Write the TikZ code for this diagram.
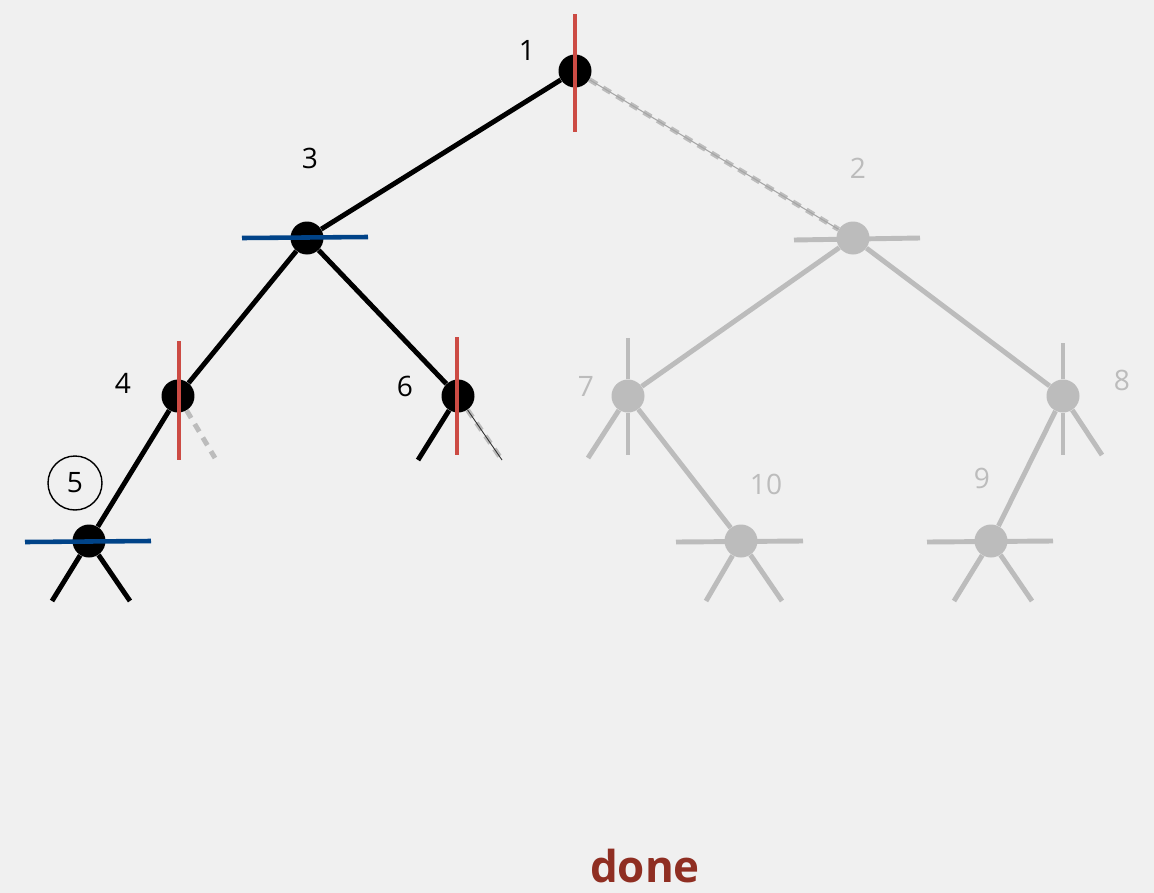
\documentclass[tikz,border=0pt]{standalone}
\usepackage{fontspec}
\setmainfont{Open Sans}
\definecolor{bgcol}{RGB}{240,240,240}
\definecolor{treegray}{RGB}{188,188,188}
\definecolor{cutred}{RGB}{204,75,68}
\definecolor{cutblue}{RGB}{0,67,136}
\definecolor{donered}{RGB}{143,46,34}

\begin{document}
\begin{tikzpicture}[x=0.02cm, y=-0.02cm, font=\fontsize{16}{19}\selectfont,
  dot/.style={circle, fill=black, inner sep=0pt, minimum size=0.66cm},
  gdot/.style={dot, fill=treegray},
  edge/.style={line width=2.8pt},
  gedge/.style={edge, draw=treegray},
  ghost/.style={draw=treegray, line width=2.8pt, dash pattern=on 5pt off 4pt},
  redcut/.style={draw=cutred, line width=2.6pt},
  bluecut/.style={draw=cutblue, line width=2.6pt},
  lbl/.style={inner sep=1pt},
  glbl/.style={lbl, text=treegray}]
  \fill[bgcol] (0,0) rectangle (1154,893);
  % explored part
  \node[dot] (n1) at (575,71) {};
  \node[dot] (n3) at (307,238) {};
  \node[dot] (n4) at (178,396) {};
  \node[dot] (n6) at (458,396) {};
  \node[dot] (n5) at (89,541) {};
  % pruned part
  \node[gdot] (n2) at (853,238) {};
  \node[gdot] (n7) at (628,396) {};
  \node[gdot] (n8) at (1063,396) {};
  \node[gdot] (n10) at (741,541) {};
  \node[gdot] (n9) at (991,541) {};
  % labels
  \node[lbl] (l1) at (527,50) {1};
  \node[lbl] (l3) at (310,158) {3};
  \node[lbl] (l4) at (123,383) {4};
  \node[lbl] (l6) at (405,386) {6};
  \node[lbl, circle, draw, line width=0.8pt, minimum size=1.08cm] (l5) at (75,483) {5};
  \node[glbl] (l2) at (858,168) {2};
  \node[glbl] (l7) at (586,386) {7};
  \node[glbl] (l8) at (1122,380) {8};
  \node[glbl] (l10) at (766,484) {10};
  \node[glbl] (l9) at (982,478) {9};
  \node[font=\fontsize{25}{30}\selectfont\bfseries, text=donered] (done) at (645,866) {done};
  % free ends of the stubs
  \coordinate (s4r) at (215,458);
  \coordinate (s6l) at (418,460);
  \coordinate (s6r) at (502,460);
  \coordinate (s5l) at (52,601);
  \coordinate (s5r) at (130,601);
  \coordinate (s7u) at (628,338);
  \coordinate (s7d) at (628,455);
  \coordinate (s7l) at (588,458);
  \coordinate (s8u) at (1063,343);
  \coordinate (s8d) at (1063,455);
  \coordinate (s8r) at (1102,455);
  \coordinate (s10l) at (706,601);
  \coordinate (s10r) at (782,601);
  \coordinate (s9l) at (954,601);
  \coordinate (s9r) at (1032,601);
  % edges
  \draw[edge] (n1) -- (n3);
  \draw[edge] (n3) -- (n4);
  \draw[edge] (n3) -- (n6);
  \draw[edge] (n4) -- (n5);
  \draw[edge] (n6) -- (s6l);
  \draw[edge] (n5) -- (s5l);
  \draw[edge] (n5) -- (s5r);
  \draw[ghost, postaction={draw=black!35, line width=0.6pt, solid}] (n1) -- (n2);
  \draw[ghost] (n4) -- (s4r);
  \draw[ghost, postaction={draw=black!80, line width=0.5pt, solid}] (n6) -- (s6r);
  \draw[gedge] (n2) -- (n7);
  \draw[gedge] (n2) -- (n8);
  \draw[gedge] (n7) -- (n10);
  \draw[gedge] (n8) -- (n9);
  \draw[gedge] (n7) -- (s7u);
  \draw[gedge] (n7) -- (s7d);
  \draw[gedge] (n7) -- (s7l);
  \draw[gedge] (n8) -- (s8u);
  \draw[gedge] (n8) -- (s8d);
  \draw[gedge] (n8) -- (s8r);
  \draw[gedge] (n10) -- (s10l);
  \draw[gedge] (n10) -- (s10r);
  \draw[gedge] (n9) -- (s9l);
  \draw[gedge] (n9) -- (s9r);
  \draw[gedge] (n2.center) ++(-59,2) -- ++(126,-2);
  \draw[gedge] (n10.center) ++(-65,1) -- ++(127,-1);
  \draw[gedge] (n9.center) ++(-64,1) -- ++(126,-1);
  % cuts
  \draw[redcut] (n1.center) ++(0,-57) -- ++(0,118);
  \draw[redcut] (n4.center) ++(1,-55) -- ++(0,119);
  \draw[redcut] (n6.center) ++(-1,-59) -- ++(0,118);
  \draw[bluecut] (n3.center) ++(-65,0) -- ++(126,-1);
  \draw[bluecut] (n5.center) ++(-64,1) -- ++(126,-1);
\end{tikzpicture}
\end{document}
